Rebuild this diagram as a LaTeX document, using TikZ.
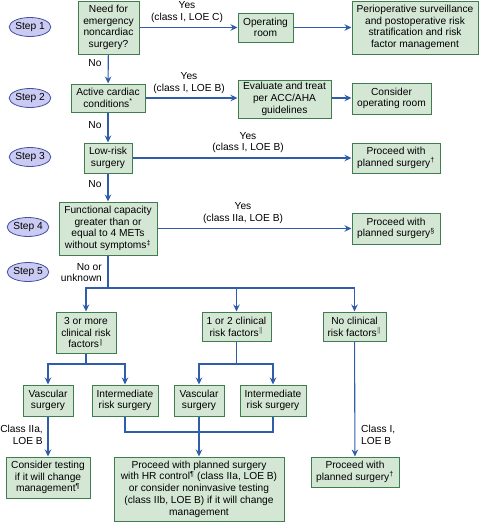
\documentclass[tikz,border=0pt]{standalone}
\usepackage{fontspec}
\setmainfont{Liberation Sans}
\usetikzlibrary{arrows.meta,shapes.geometric}
\definecolor{boxfill}{HTML}{D4E7D5}
\definecolor{boxdraw}{HTML}{3F7D4F}
\definecolor{elfill}{HTML}{CACAF2}
\definecolor{eldraw}{HTML}{4050A0}
\definecolor{arr}{HTML}{2F5DAA}
\newcommand{\dbar}{\textsuperscript{\(\|\)}}
\begin{document}
\begin{tikzpicture}[x=1pt,y=-1pt,
  txt/.style={font=\fontsize{10.2}{11.7}\selectfont},
  bx/.style 2 args={draw=boxdraw, fill=boxfill, line width=1pt, inner sep=0pt, align=center, txt, minimum width=#1pt, minimum height=#2pt},
  stepel/.style={ellipse, draw=eldraw, fill=elfill, line width=0.8pt, minimum width=37pt, minimum height=19pt, inner sep=0pt, txt},
  conn/.style={draw=arr, line width=1.1pt},
  arrow/.style={conn, -{Stealth[length=7pt,width=6.5pt]}},
  lbl/.style={txt, align=center, inner sep=0pt}]
\useasboundingbox (0,0) rectangle (479,522);
% step ellipses
\node[stepel] (e1) at (30,27) {Step 1};
\node[stepel] (e2) at (30,98) {Step 2};
\node[stepel] (e3) at (30,157) {Step 3};
\node[stepel] (e4) at (28,227) {Step 4};
\node[stepel] (e5) at (28,272) {Step 5};
% boxes
\node[bx={61}{53}] (s1) at (108.5,27.5) {Need for\\emergency\\noncardiac\\surgery?};
\node[bx={55}{29}] (or) at (265.5,27.5) {Operating\\room};
\node[bx={126}{53}] (peri) at (415,27.5) {Perioperative surveillance\\and postoperative risk\\stratification and risk\\factor management};
\node[bx={74}{28}] (s2) at (108,98) {Active cardiac\\conditions\textsuperscript{*}};
\node[bx={93}{38}] (ev) at (284.5,99) {Evaluate and treat\\per ACC/AHA\\guidelines};
\node[bx={79}{31}] (cor) at (391.5,98.5) {Consider\\operating room};
\node[bx={48}{30}] (s3) at (108,158) {Low-risk\\surgery};
\node[bx={88}{30}] (p3) at (396,158) {Proceed with\\planned surgery\textsuperscript{†}};
\node[bx={98}{53}] (s4) at (108,228.5) {Functional capacity\\greater than or\\equal to 4 METs\\without symptoms\textsuperscript{‡}};
\node[bx={88}{31}] (p4) at (396,228.5) {Proceed with\\planned surgery\textsuperscript{§}};
\node[bx={60}{41}] (r3) at (86,332.5) {3 or more\\clinical risk\\factors\dbar};
\node[bx={69}{29}] (r12) at (236.5,326.5) {1 or 2 clinical\\risk factors\dbar};
\node[bx={63}{29}] (r0) at (354.5,326.5) {No clinical\\risk factors\dbar};
\node[bx={50}{31}] (vl) at (48,400.5) {Vascular\\surgery};
\node[bx={66}{31}] (il) at (125,400.5) {Intermediate\\risk surgery};
\node[bx={50}{31}] (vm) at (199,400.5) {Vascular\\surgery};
\node[bx={66}{31}] (im) at (273,400.5) {Intermediate\\risk surgery};
\node[bx={84}{41}] (ct) at (48,477.5) {Consider testing\\if it will change\\management\textsuperscript{¶}};
\node[bx={170}{64}] (pb) at (199,489) {Proceed with planned surgery\\with HR control\textsuperscript{¶} (class IIa, LOE B)\\or consider noninvasive testing\\(class IIb, LOE B) if it will change\\management};
\node[bx={88}{30}] (p0) at (355,472) {Proceed with\\planned surgery\textsuperscript{†}};
% labels
\node[lbl] (y1) at (187,12) {Yes\\(class I, LOE C)};
\node[lbl] (y2) at (189,83) {Yes\\(class I, LOE B)};
\node[lbl] (y3) at (248,142.5) {Yes\\(class I, LOE B)};
\node[lbl] (y4) at (243,213) {Yes\\(class IIa, LOE B)};
\node[lbl] (n1) at (95,63) {No};
\node[lbl] (n2) at (95,125) {No};
\node[lbl] (n3) at (95,184) {No};
\node[lbl, align=right, anchor=east] (n5) at (102,272.5) {No or\\unknown};
\node[lbl, align=right, anchor=east] (c1) at (43,434.5) {Class IIa,\\LOE B};
\node[lbl, align=left, anchor=west] (c2) at (361,434.5) {Class I,\\LOE B};
% connectors
\draw[arrow] (s1) -- (or);
\draw[arrow] (or) -- (peri.west |- or.east);
\draw[arrow] (s1) -- (s2);
\draw[arrow] (s2.east) -- (s2.east -| ev.west);
\draw[arrow] (ev.east |- s2.east) -- (cor.west |- s2.east);
\draw[arrow] (s2) -- (s3);
\draw[arrow] (s3) -- (p3);
\draw[arrow] (s3) -- (s4);
\draw[arrow] (s4) -- (p4);
\coordinate (j5) at (108,288);
\draw[conn] (s4.south) -- (j5);
\draw[arrow] (j5) -| (r3.north);
\draw[arrow] (j5) -| (r12.north);
\draw[arrow] (j5) -| (r0.north);
\coordinate (j3) at (86,364);
\draw[conn] (r3.south) -- (j3);
\draw[arrow] (j3) -| (vl.north);
\draw[arrow] (j3) -| (il.north);
\coordinate (j12) at (236.5,364);
\draw[conn] (r12.south) -- (j12);
\draw[arrow] (j12) -| (vm.north);
\draw[arrow] (j12) -| (im.north);
\coordinate (jb) at (125,432);
\draw[conn] (il.south) -- (jb) -| (im.south);
\draw[arrow] (vm) -- (pb);
\draw[arrow] (vl) -- (ct);
\draw[arrow] (r0) -- (p0);
\end{tikzpicture}
\end{document}
